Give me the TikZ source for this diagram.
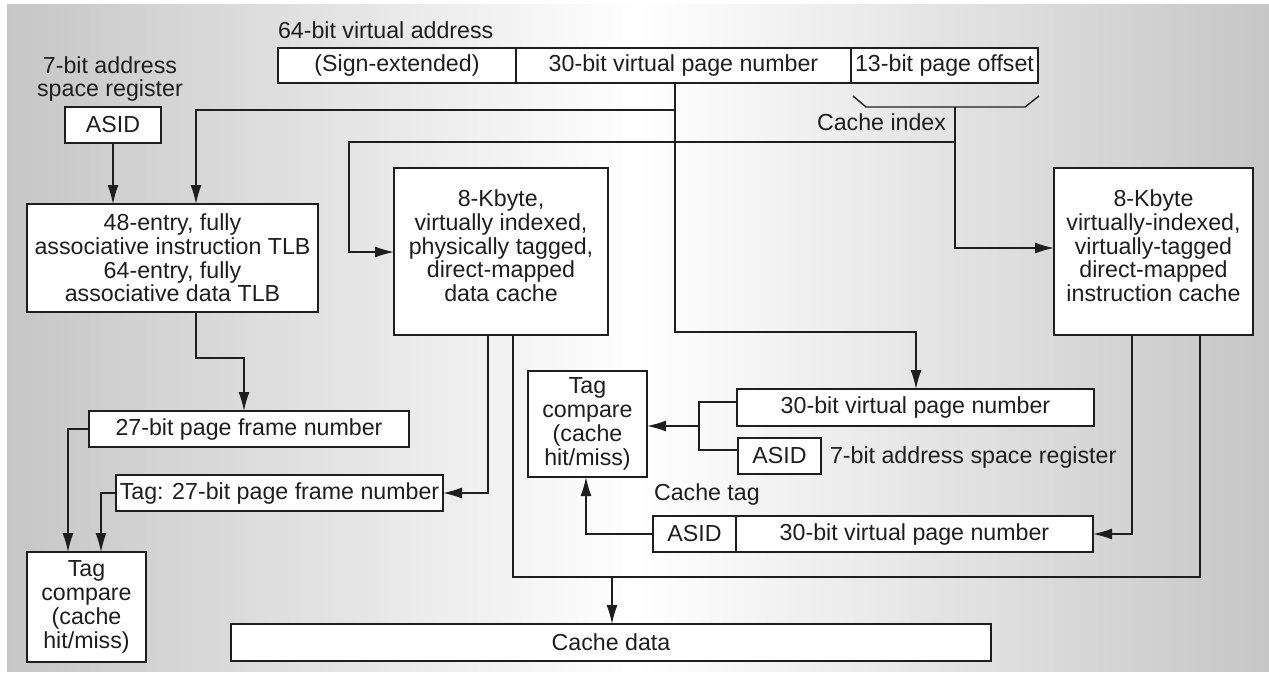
\documentclass[tikz,border=0pt]{standalone}
\usepackage{fontspec}
\setmainfont{Liberation Sans}
\usetikzlibrary{arrows.meta}
\definecolor{ink}{HTML}{1E1E1E}
\definecolor{bggray}{HTML}{C6C6C6}
\tikzset{
  box/.style={draw=ink, line width=1.4pt, fill=white, inner sep=0pt, outer sep=0pt,
    align=center, anchor=north west, text=ink},
  ln/.style={draw=ink, line width=1.4pt, line join=miter},
  arr/.style={-{Latex[length=19pt,width=11pt]}},
  lbl/.style={inner sep=0pt, outer sep=0pt, text=ink},
}
\newcommand{\mybox}[6]{\node[box, minimum width=#4pt, minimum height=#5pt] (#1) at (#2,#3) {#6};}
\begin{document}
\begin{tikzpicture}[x=1pt,y=-1pt]
\fontsize{23.2pt}{23.8pt}\selectfont
\useasboundingbox (0,0) rectangle (1269,672);
\shade[left color=bggray, right color=bggray, middle color=white] (7,4) rectangle (1269,671);

% top address
\node[lbl, anchor=base west] (lva) at (278,38) {64-bit virtual address};
\mybox{vsign}{278}{48}{238}{35}{(Sign-extended)}
\mybox{vvpn}{516}{48}{335}{35}{30-bit virtual page number}
\mybox{voff}{851}{48}{187}{35}{13-bit page offset}

% left column
\node[lbl, align=center] (lasr) at (110,79) {7-bit address\\space register};
\mybox{asid1}{65}{107}{96}{36}{ASID}
\mybox{tlb}{27}{204}{291}{108}{48-entry, fully\\associative instruction TLB\\64-entry, fully\\associative data TLB}
\mybox{pfn}{89}{411}{320}{36}{27-bit page frame number}
\mybox{tag}{116}{475}{327}{36}{Tag: 27-bit page frame number}
\mybox{tc1}{27}{552}{119}{110}{Tag\\compare\\(cache\\hit/miss)}

% caches
\mybox{dcache}{394}{168}{214}{167}{8-Kbyte,\\virtually indexed,\\physically tagged,\\direct-mapped\\data cache\\[-12pt]\mbox{}}
\mybox{icache}{1054}{168}{199}{167}{8-Kbyte\\virtually-indexed,\\virtually-tagged\\direct-mapped\\instruction cache\\[-12pt]\mbox{}}

% middle tag compare
\mybox{tc2}{528}{371}{119}{106}{Tag\\compare\\(cache\\hit/miss)}
\mybox{uvpn}{737}{389}{357}{37}{30-bit virtual page number}
\mybox{uasid}{738}{438}{83}{36}{ASID}
\node[lbl, anchor=base west] (lasr2) at (830,463) {7-bit address space register};
\node[lbl, anchor=base west] (lct) at (654,500) {Cache tag};
\mybox{casid}{653}{516}{83}{36}{ASID}
\mybox{cvpn}{736}{516}{357}{36}{30-bit virtual page number}
\mybox{cdata}{231}{624}{760}{37}{Cache data}

% cache index label and brace
\node[lbl, anchor=base east] (lci) at (946,130) {Cache index};
\coordinate (b1) at (853,96);
\coordinate (b2) at (866,107);
\coordinate (ci) at (955,107);
\coordinate (b3) at (1025,107);
\coordinate (b4) at (1039,96);
\draw[ln] (b1) -- (b2) -- (b3) -- (b4);

% junctions
\coordinate (ja) at (675,110);
\coordinate (jb) at (196,110);
\coordinate (jc) at (675,332);
\coordinate (jd) at (916,332);
\coordinate (je) at (955,248);
\coordinate (jf) at (955,142);
\coordinate (jg) at (349,142);
\coordinate (jh) at (349,252);
\coordinate (ji) at (196,358);
\coordinate (jj) at (244,358);
\coordinate (jk) at (68,429);
\coordinate (jl) at (101,493);
\coordinate (jm) at (488,493);
\coordinate (jn) at (513,577);
\coordinate (jo) at (1200,577);
\coordinate (jp) at (612,577);
\coordinate (jq) at (1132,534);
\coordinate (jr) at (586,534);
\coordinate (js) at (699,402);
\coordinate (jt) at (699,450);
\coordinate (ju) at (699,426);

% connectors
\draw[ln,arr] (asid1) -- (tlb.north -| asid1);
\draw[ln,arr] (vvpn.south -| ja) -- (ja) -- (jb) -- (tlb.north -| jb);
\draw[ln,arr] (ja) -- (jc) -- (jd) -- (uvpn.north -| jd);
\draw[ln,arr] (ci) -- (je) -- (icache.west |- je);
\draw[ln,arr] (jf) -- (jg) -- (jh) -- (dcache.west |- jh);
\draw[ln,arr] (tlb.south -| ji) -- (ji) -- (jj) -- (pfn.north -| jj);
\draw[ln,arr] (pfn.west |- jk) -- (jk) -- (tc1.north -| jk);
\draw[ln,arr] (tag.west |- jl) -- (jl) -- (tc1.north -| jl);
\draw[ln,arr] (dcache.south -| jm) -- (jm) -- (tag.east |- jm);
\draw[ln] (dcache.south -| jn) -- (jn) -- (jo) -- (icache.south -| jo);
\draw[ln,arr] (jp) -- (cdata.north -| jp);
\draw[ln,arr] (icache.south -| jq) -- (jq) -- (cvpn.east |- jq);
\draw[ln,arr] (casid.west |- jr) -- (jr) -- (tc2.south -| jr);
\draw[ln] (uvpn.west |- js) -- (js) -- (jt) -- (uasid.west |- jt);
\draw[ln,arr] (ju) -- (tc2.east |- ju);
\end{tikzpicture}
\end{document}
